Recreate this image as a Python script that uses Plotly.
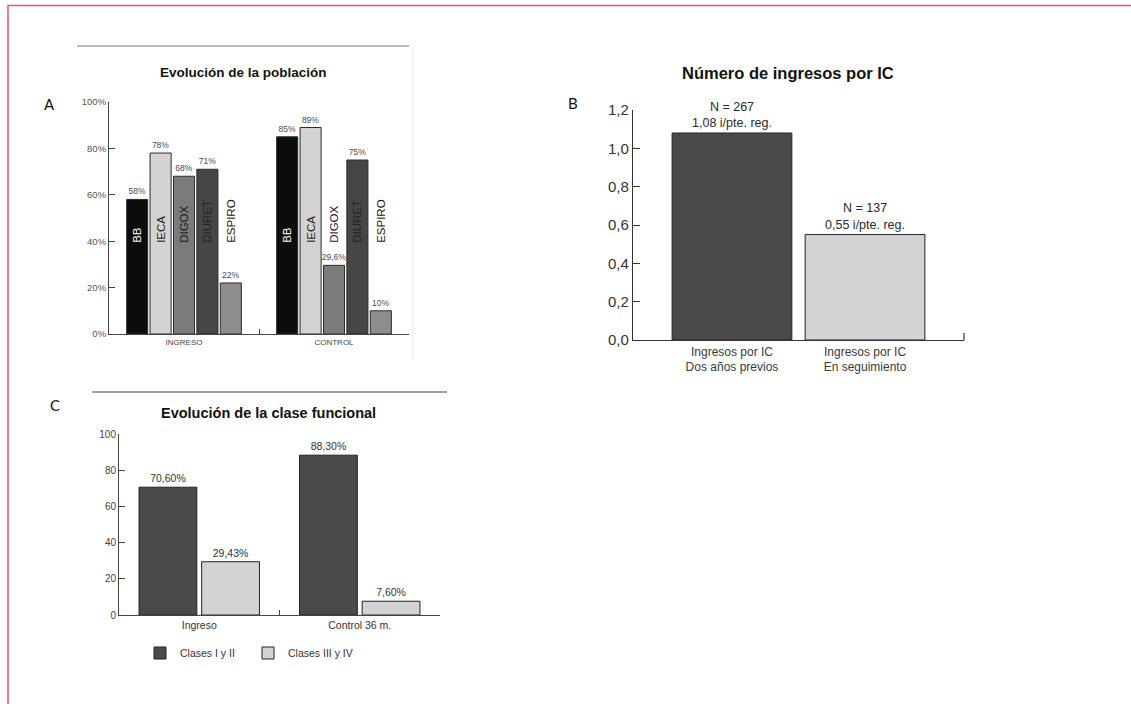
import plotly.graph_objects as go

# ---------------- data ----------------
# Panel A: Evolución de la población
groups_a = ["INGRESO", "CONTROL"]
drugs = ["BB", "IECA", "DIGOX", "DIURET", "ESPIRO"]
ingreso_pct = [58, 78, 68, 71, 22]
control_pct = [85, 89, 29.6, 75, 10]
ticks_a = [0, 20, 40, 60, 80, 100]

# Panel B: Número de ingresos por IC
categories_b = ["Ingresos por IC<br>Dos años previos", "Ingresos por IC<br>En seguimiento"]
rate_b = [1.08, 0.55]
n_b = [267, 137]
ticks_b = [0, 0.2, 0.4, 0.6, 0.8, 1.0, 1.2]

# Panel C: Evolución de la clase funcional
groups_c = ["Ingreso", "Control 36 m."]
series_c = ["Clases I y II", "Clases III y IV"]
clases_i_ii = [70.60, 88.30]
clases_iii_iv = [29.43, 7.60]
ticks_c = [0, 20, 40, 60, 80, 100]

# ---------------- helpers ----------------
W, H = 1131, 704


def px(x):
    return x / W


def py(y):
    return 1 - y / H


def comma(v, dec=None):
    s = f"{v:g}" if dec is None else f"{v:.{dec}f}"
    return s.replace(".", ",")


FONT = "Liberation Sans, Arial, sans-serif"
LETTER_FONT = "Lato, Open Sans, sans-serif"

fig = go.Figure()

# ---------------- panel A ----------------
drug_colors = ["#0c0c0c", "#d3d3d3", "#7b7b7b", "#464646", "#8d8d8d"]
label_colors = ["#ffffff", "#1c1c1c", "#1a1a1a", "#222222", "#141414"]
for i, d in enumerate(drugs):
    vals = [ingreso_pct[i], control_pct[i]]
    fig.add_trace(go.Bar(
        x=groups_a, y=vals, offsetgroup=d, name=d,
        marker=dict(color=drug_colors[i], line=dict(color="#2a2a2a", width=1)),
        text=[comma(v) + "%" for v in vals], textposition="outside",
        textfont=dict(size=8.5, color="#4a4a4a", family=FONT),
        constraintext="none", cliponaxis=False, showlegend=False,
        xaxis="x", yaxis="y"))
    # vertical name label, starting at a fixed height
    fig.add_trace(go.Bar(
        x=groups_a, y=[30, 30], base=[38, 38], offsetgroup=d, name=d,
        marker=dict(color="rgba(0,0,0,0)", line=dict(width=0)),
        text=[d, d], textposition="inside", insidetextanchor="start",
        textangle=-90, textfont=dict(size=11.5, color=label_colors[i], family=FONT),
        constraintext="none", cliponaxis=False, showlegend=False,
        hoverinfo="skip", xaxis="x", yaxis="y"))

# ---------------- panel B ----------------
fig.add_trace(go.Bar(
    x=categories_b, y=rate_b, width=0.9,
    marker=dict(color=["#4a4a4a", "#d4d4d4"], line=dict(color="#222222", width=1)),
    text=[f"N = {n}<br>{comma(v, 2)} i/pte. reg." for n, v in zip(n_b, rate_b)],
    textposition="outside", textfont=dict(size=12.5, color="#2a2a2a", family=FONT),
    constraintext="none", cliponaxis=False, showlegend=False,
    xaxis="x2", yaxis="y2"))

# ---------------- panel C ----------------
c_colors = ["#4a4a4a", "#d3d3d3"]
for name, vals, col in zip(series_c, [clases_i_ii, clases_iii_iv], c_colors):
    fig.add_trace(go.Bar(
        x=groups_c, y=vals, name=name, width=0.36,
        marker=dict(color=col, line=dict(color="#222222", width=1)),
        text=[comma(v, 2) + "%" for v in vals], textposition="outside",
        textfont=dict(size=10.5, color="#333333", family=FONT),
        constraintext="none", cliponaxis=False, showlegend=True,
        xaxis="x3", yaxis="y3"))

axis_common = dict(showline=True, showgrid=False, zeroline=False, fixedrange=True,
                   automargin=False)

fig.update_layout(
    template="none",
    width=W, height=H, autosize=False,
    margin=dict(l=0, r=0, t=0, b=0, pad=0, autoexpand=False),
    paper_bgcolor="white", plot_bgcolor="white",
    font=dict(family=FONT, color="#333333"),
    barmode="group", bargap=0.22, bargroupgap=0.1,
    separators=",.",
    xaxis=dict(domain=[px(109), px(409)], anchor="y", type="category",
               range=[-0.5, 1.5], linecolor="#444444", linewidth=1,
               ticks="inside", tickson="boundaries", ticklen=5, tickcolor="#444444",
               tickfont=dict(size=8, color="#444444"), **axis_common),
    yaxis=dict(domain=[py(334), py(102)], anchor="x", range=[0, 100],
               tickmode="array", tickvals=ticks_a, ticktext=[f"{t}%" for t in ticks_a],
               linecolor="#444444", linewidth=1, ticks="inside", ticklen=6,
               tickcolor="#444444", tickfont=dict(size=9.5, color="#555555"),
               **axis_common),
    xaxis2=dict(domain=[px(633), px(964)], anchor="y2", type="category",
                range=[-0.744, 1.744], linecolor="#333333", linewidth=1.2,
                ticks="", tickfont=dict(size=12, color="#3a3a3a"), **axis_common),
    yaxis2=dict(domain=[py(340), py(110)], anchor="x2", range=[0, 1.2],
                tickmode="array", tickvals=ticks_b,
                ticktext=[comma(t, 1) for t in ticks_b],
                linecolor="#333333", linewidth=1.2, ticks="inside", ticklen=7,
                tickcolor="#333333", tickfont=dict(size=15, color="#333333"),
                **axis_common),
    xaxis3=dict(domain=[px(119), px(440)], anchor="y3", type="category",
                range=[-0.5, 1.5], linecolor="#444444", linewidth=1,
                ticks="inside", tickson="boundaries", ticklen=5, tickcolor="#444444",
                tickfont=dict(size=10.5, color="#333333"), **axis_common),
    yaxis3=dict(domain=[py(615), py(434)], anchor="x3", range=[0, 100],
                tickmode="array", tickvals=ticks_c, ticktext=[str(t) for t in ticks_c],
                linecolor="#444444", linewidth=1, ticks="inside", ticklen=6,
                tickcolor="#444444", tickfont=dict(size=10, color="#444444"),
                **axis_common),
    legend=dict(orientation="h", x=px(140), y=py(653), xanchor="left", yanchor="middle",
                entrywidth=63, entrywidthmode="pixels",
                font=dict(size=10.5, color="#333333", family=FONT),
                bgcolor="rgba(0,0,0,0)", borderwidth=0, traceorder="normal"),
)

# titles and panel letters
annotations = [
    dict(text="<b>Evolución de la población</b>", x=px(243), y=py(72), size=13.5),
    dict(text="<b>Número de ingresos por IC</b>", x=px(788), y=py(73), size=16.5),
    dict(text="<b>Evolución de la clase funcional</b>", x=px(268), y=py(413), size=14.5),
]
for a in annotations:
    fig.add_annotation(text=a["text"], x=a["x"], y=a["y"], xref="paper", yref="paper",
                       xanchor="center", yanchor="middle", showarrow=False,
                       font=dict(size=a["size"], color="#111111", family=FONT))
for letter, lx, ly in [("A", 49, 104), ("B", 573, 103), ("C", 55, 405)]:
    fig.add_annotation(text=letter, x=px(lx), y=py(ly), xref="paper", yref="paper",
                       xanchor="center", yanchor="middle", showarrow=False,
                       font=dict(size=15, color="#111111", family=LETTER_FONT))

# decorative rules, frame, end tick
shapes = [
    dict(type="line", xref="paper", yref="paper", x0=px(77), x1=px(409), y0=py(46), y1=py(46),
         line=dict(color="#7a7a7a", width=1)),
    dict(type="line", xref="paper", yref="paper", x0=px(92), x1=px(447), y0=py(392), y1=py(392),
         line=dict(color="#808080", width=1.5)),
    dict(type="line", xref="paper", yref="paper", x0=px(413), x1=px(413), y0=py(48), y1=py(360),
         line=dict(color="#ececec", width=1)),
    dict(type="line", xref="x2 domain", yref="y2 domain", x0=1, x1=1, y0=0, y1=0.03,
         line=dict(color="#333333", width=1.2)),
    dict(type="rect", xref="paper", yref="paper", x0=px(8), x1=1.05, y0=-0.05, y1=py(5.5),
         line=dict(color="#e8536b", width=1.5), fillcolor="rgba(0,0,0,0)"),
]
for s in shapes:
    fig.add_shape(**s)

# place the fixed-size figure at the page origin (no body margin / scrollbars)
page_fix = (
    "document.documentElement.style.margin='0';"
    "document.documentElement.style.overflow='hidden';"
    "document.body.style.margin='0';"
    "document.body.style.overflow='hidden';"
    "var gd=document.getElementById('{plot_id}');"
    "gd.style.position='absolute';gd.style.left='0px';gd.style.top='0px';"
)

fig.write_html("out.html", post_script=page_fix,
               config={"displayModeBar": False, "staticPlot": False})
